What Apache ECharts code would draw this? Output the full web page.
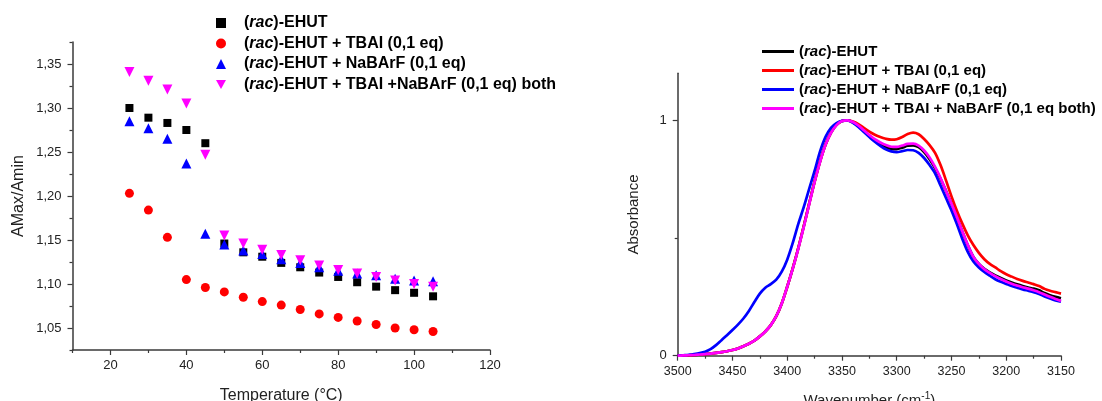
<!DOCTYPE html>
<html><head><meta charset="utf-8">
<script src="https://cdn.jsdelivr.net/npm/echarts@6/dist/echarts.min.js"></script>
<style>html,body{margin:0;padding:0;background:#fff}#c{width:1102px;height:401px}</style>
</head><body><div id="c"></div>
<script>
// ---- Left chart data (AMax/Amin vs Temperature) ----
const temps = [25,30,35,40,45,50,55,60,65,70,75,80,85,90,95,100,105];
const ehut = [1.300,1.289,1.283,1.275,1.260,1.146,1.136,1.131,1.124,1.119,1.113,1.108,1.102,1.097,1.093,1.090,1.086];
const ehutTBAI = [1.203,1.184,1.153,1.105,1.096,1.091,1.085,1.080,1.076,1.071,1.066,1.062,1.058,1.054,1.050,1.048,1.046];
const ehutNaBArF = [1.285,1.277,1.265,1.237,1.157,1.145,1.138,1.134,1.128,1.124,1.119,1.115,1.112,1.110,1.106,1.104,1.103];
const ehutBoth = [1.341,1.331,1.321,1.305,1.247,1.155,1.146,1.139,1.133,1.127,1.121,1.116,1.112,1.108,1.104,1.100,1.097];
const leftXLabels = [20,40,60,80,100,120];
const leftXMinor = [10,30,50,70,90,110];
const leftYLabels = [1.05,1.10,1.15,1.20,1.25,1.30,1.35];
const leftYMinor = [1.025,1.075,1.125,1.175,1.225,1.275,1.325,1.375];

// ---- Right chart data (normalized IR spectra) ----
const wn = [3500,3495,3490,3485,3480,3475,3470,3465,3460,3455,3450,3445,3440,3435,3430,3425,3420,3415,3410,3405,
  3400,3395,3390,3385,3380,3375,3370,3365,3360,3355,3350,3345,3340,3335,3330,3325,3320,3315,3310,3305,
  3300,3295,3290,3285,3280,3275,3270,3265,3260,3255,3250,3245,3240,3235,3230,3225,3220,3215,3210,3205,
  3200,3195,3190,3185,3180,3175,3170,3165,3160,3155,3150];
const specEhut = [0.000,0.001,0.002,0.003,0.005,0.007,0.009,0.012,0.015,0.019,0.024,0.031,0.040,0.051,0.064,0.082,0.103,0.130,0.168,0.222,
  0.293,0.370,0.455,0.548,0.645,0.740,0.826,0.897,0.948,0.981,0.997,1.000,0.992,0.976,0.955,0.934,0.915,0.899,0.886,0.879,
  0.878,0.884,0.892,0.894,0.886,0.865,0.835,0.797,0.752,0.700,0.645,0.587,0.526,0.468,0.420,0.390,0.369,0.354,0.341,0.330,
  0.320,0.311,0.303,0.296,0.290,0.285,0.278,0.266,0.257,0.250,0.244];
const specTBAI = [0.000,0.001,0.002,0.003,0.005,0.007,0.009,0.012,0.015,0.019,0.024,0.031,0.040,0.051,0.064,0.082,0.103,0.130,0.168,0.222,
  0.293,0.370,0.455,0.548,0.645,0.740,0.826,0.897,0.948,0.981,0.997,1.000,0.995,0.984,0.968,0.952,0.939,0.929,0.922,0.918,
  0.920,0.929,0.942,0.948,0.941,0.921,0.895,0.862,0.810,0.745,0.677,0.615,0.560,0.510,0.470,0.437,0.410,0.390,0.375,0.359,
  0.346,0.336,0.326,0.318,0.311,0.304,0.296,0.284,0.276,0.270,0.264];
const specNaBArF = [0.000,0.002,0.004,0.007,0.011,0.017,0.028,0.045,0.066,0.087,0.109,0.132,0.158,0.190,0.228,0.264,0.289,0.304,0.323,0.357,
  0.408,0.478,0.558,0.630,0.708,0.785,0.868,0.930,0.968,0.988,0.998,1.000,0.990,0.972,0.950,0.929,0.909,0.892,0.877,0.868,
  0.865,0.869,0.874,0.873,0.862,0.840,0.810,0.775,0.723,0.670,0.617,0.558,0.495,0.440,0.400,0.375,0.356,0.340,0.325,0.314,
  0.305,0.296,0.289,0.282,0.276,0.270,0.262,0.252,0.243,0.235,0.229];
const specBoth = [0.000,0.001,0.002,0.003,0.005,0.007,0.009,0.012,0.015,0.019,0.024,0.031,0.040,0.051,0.064,0.082,0.103,0.130,0.168,0.222,
  0.293,0.369,0.453,0.545,0.642,0.738,0.824,0.896,0.947,0.980,0.997,1.000,0.993,0.978,0.958,0.938,0.920,0.906,0.895,0.888,
  0.887,0.893,0.900,0.901,0.893,0.872,0.842,0.802,0.755,0.700,0.646,0.588,0.527,0.470,0.420,0.390,0.368,0.352,0.338,0.326,
  0.315,0.306,0.298,0.291,0.285,0.278,0.270,0.260,0.250,0.241,0.233];
const rightXLabels = [3500,3450,3400,3350,3300,3250,3200,3150];
const rightXMinor = [3475,3425,3375,3325,3275,3225,3175];
const rightYLabels = [0,1];
const rightYMinor = [0.5];

const FONT = '"Liberation Sans", Arial, sans-serif';
const AX = '#3a3a3a';
const DOWN_TRI = 'path://M0,0L10,0L5,9Z';
const pairs = (xs, ys) => xs.map((x, i) => [x, ys[i]]);
const richLegend = (size) => ({ it: { fontStyle: 'italic', fontWeight: 'bold', fontSize: size, fontFamily: FONT, color: '#000', lineHeight: size } });
const legendFmt = (name) => name.trim().replace('rac', '{it|rac}');

function mainAxis(grid, pos, min, max, labels, extra) {
  return Object.assign({
    type: 'value', gridIndex: grid, position: pos, min: min, max: max,
    axisLine: { show: true, onZero: false, lineStyle: { color: AX, width: 1.5 } },
    axisTick: { show: true, customValues: labels, length: 5, lineStyle: { color: AX, width: 1.2 } },
    axisLabel: { customValues: labels, color: '#222', fontSize: 13, fontFamily: FONT },
    splitLine: { show: false }
  }, extra || {});
}
function minorAxis(grid, pos, min, max, vals, extra) {
  return Object.assign({
    type: 'value', gridIndex: grid, position: pos, min: min, max: max,
    axisLine: { show: false, onZero: false },
    axisTick: { show: true, customValues: vals, length: 3, lineStyle: { color: AX, width: 1.2 } },
    axisLabel: { show: false }, splitLine: { show: false }
  }, extra || {});
}

const chart = echarts.init(document.getElementById('c'), null, { renderer: 'canvas' });
chart.setOption({
  backgroundColor: '#fff',
  animation: false,
  grid: [
    { left: 72.5, top: 42, width: 417.5, height: 308, outerBoundsMode: 'none', containLabel: false },
    { left: 677.7, top: 73.3, width: 383.3, height: 282.4, outerBoundsMode: 'none', containLabel: false }
  ],
  legend: [
    {
      left: 216, top: 15, padding: 0, orient: 'vertical', itemWidth: 10, itemHeight: 10, itemGap: 4.5,
      data: ['(rac)-EHUT', '(rac)-EHUT + TBAI (0,1 eq)', '(rac)-EHUT + NaBArF (0,1 eq)',
        { name: '(rac)-EHUT + TBAI +NaBArF (0,1 eq) both', icon: DOWN_TRI }],
      formatter: legendFmt,
      textStyle: { fontFamily: FONT, fontWeight: 'bold', fontSize: 16, color: '#000', lineHeight: 16,
        padding: [0, 0, 0, 13], rich: richLegend(16) }
    },
    {
      left: 762, top: 44, padding: 0, orient: 'vertical', itemWidth: 32, itemHeight: 3, itemGap: 4, icon: 'rect',
      data: ['(rac)-EHUT ', '(rac)-EHUT + TBAI (0,1 eq) ', '(rac)-EHUT + NaBArF (0,1 eq) ', '(rac)-EHUT + TBAI + NaBArF (0,1 eq both)'],
      formatter: legendFmt,
      textStyle: { fontFamily: FONT, fontWeight: 'bold', fontSize: 15, color: '#000', lineHeight: 15, rich: richLegend(15) }
    }
  ],
  xAxis: [
    mainAxis(0, 'bottom', 10, 120, leftXLabels, {
      name: 'Temperature (°C)', nameLocation: 'middle', nameGap: 38,
      nameTextStyle: { fontFamily: FONT, fontSize: 16, color: '#222' },
      axisLabel: { customValues: leftXLabels, color: '#222', fontSize: 13, fontFamily: FONT, margin: 9 }
    }),
    minorAxis(0, 'bottom', 10, 120, leftXMinor),
    mainAxis(1, 'bottom', 3150, 3500, rightXLabels, {
      inverse: true,
      name: 'Wavenumber (cm{sup|-1})', nameLocation: 'middle', nameGap: 36,
      nameTextStyle: { fontFamily: FONT, fontSize: 15, color: '#222',
        rich: { sup: { fontSize: 10, verticalAlign: 'top', padding: [0, 0, 8, 0], fontFamily: FONT, color: '#222' } } },
      axisLabel: { customValues: rightXLabels, color: '#222', fontSize: 12.5, fontFamily: FONT, margin: 9,
        formatter: v => String(v) }
    }),
    minorAxis(1, 'bottom', 3150, 3500, rightXMinor, { inverse: true })
  ],
  yAxis: [
    mainAxis(0, 'left', 1.025, 1.375, leftYLabels, {
      name: 'AMax/Amin', nameLocation: 'middle', nameGap: 46,
      nameTextStyle: { fontFamily: FONT, fontSize: 16, color: '#222' },
      axisLabel: { customValues: leftYLabels, color: '#222', fontSize: 13, fontFamily: FONT, margin: 11,
        formatter: v => v.toFixed(2).replace('.', ',') }
    }),
    minorAxis(0, 'left', 1.025, 1.375, leftYMinor),
    mainAxis(1, 'left', 0, 1.2, rightYLabels, {
      name: 'Absorbance', nameLocation: 'middle', nameGap: 36,
      nameTextStyle: { fontFamily: FONT, fontSize: 15, color: '#222' },
      axisLabel: { customValues: rightYLabels, color: '#222', fontSize: 13, fontFamily: FONT, margin: 11,
        formatter: v => String(v) }
    }),
    minorAxis(1, 'left', 0, 1.2, rightYMinor)
  ],
  series: [
    { name: '(rac)-EHUT', type: 'scatter', xAxisIndex: 0, yAxisIndex: 0, symbol: 'rect', symbolSize: 8,
      itemStyle: { color: '#000000', opacity: 1 }, data: pairs(temps, ehut) },
    { name: '(rac)-EHUT + TBAI (0,1 eq)', type: 'scatter', xAxisIndex: 0, yAxisIndex: 0, symbol: 'circle', symbolSize: 9,
      itemStyle: { color: '#ff0000', opacity: 1 }, data: pairs(temps, ehutTBAI) },
    { name: '(rac)-EHUT + NaBArF (0,1 eq)', type: 'scatter', xAxisIndex: 0, yAxisIndex: 0, symbol: 'triangle', symbolSize: 10,
      itemStyle: { color: '#0000ff', opacity: 1 }, data: pairs(temps, ehutNaBArF) },
    { name: '(rac)-EHUT + TBAI +NaBArF (0,1 eq) both', type: 'scatter', xAxisIndex: 0, yAxisIndex: 0, symbol: 'triangle', symbolRotate: 180, symbolSize: 10,
      itemStyle: { color: '#ff00ff', opacity: 1 }, data: pairs(temps, ehutBoth) },

    { name: '(rac)-EHUT ', type: 'line', xAxisIndex: 2, yAxisIndex: 2, symbol: 'none', smooth: 0.3,
      lineStyle: { color: '#000000', width: 2.7 }, itemStyle: { color: '#000000' }, data: pairs(wn, specEhut) },
    { name: '(rac)-EHUT + TBAI (0,1 eq) ', type: 'line', xAxisIndex: 2, yAxisIndex: 2, symbol: 'none', smooth: 0.3,
      lineStyle: { color: '#ff0000', width: 2.7 }, itemStyle: { color: '#ff0000' }, data: pairs(wn, specTBAI) },
    { name: '(rac)-EHUT + NaBArF (0,1 eq) ', type: 'line', xAxisIndex: 2, yAxisIndex: 2, symbol: 'none', smooth: 0.3,
      lineStyle: { color: '#0000ff', width: 2.7 }, itemStyle: { color: '#0000ff' }, data: pairs(wn, specNaBArF) },
    { name: '(rac)-EHUT + TBAI + NaBArF (0,1 eq both)', type: 'line', xAxisIndex: 2, yAxisIndex: 2, symbol: 'none', smooth: 0.3,
      lineStyle: { color: '#ff00ff', width: 2.7 }, itemStyle: { color: '#ff00ff' }, data: pairs(wn, specBoth) }
  ]
});
</script></body></html>
